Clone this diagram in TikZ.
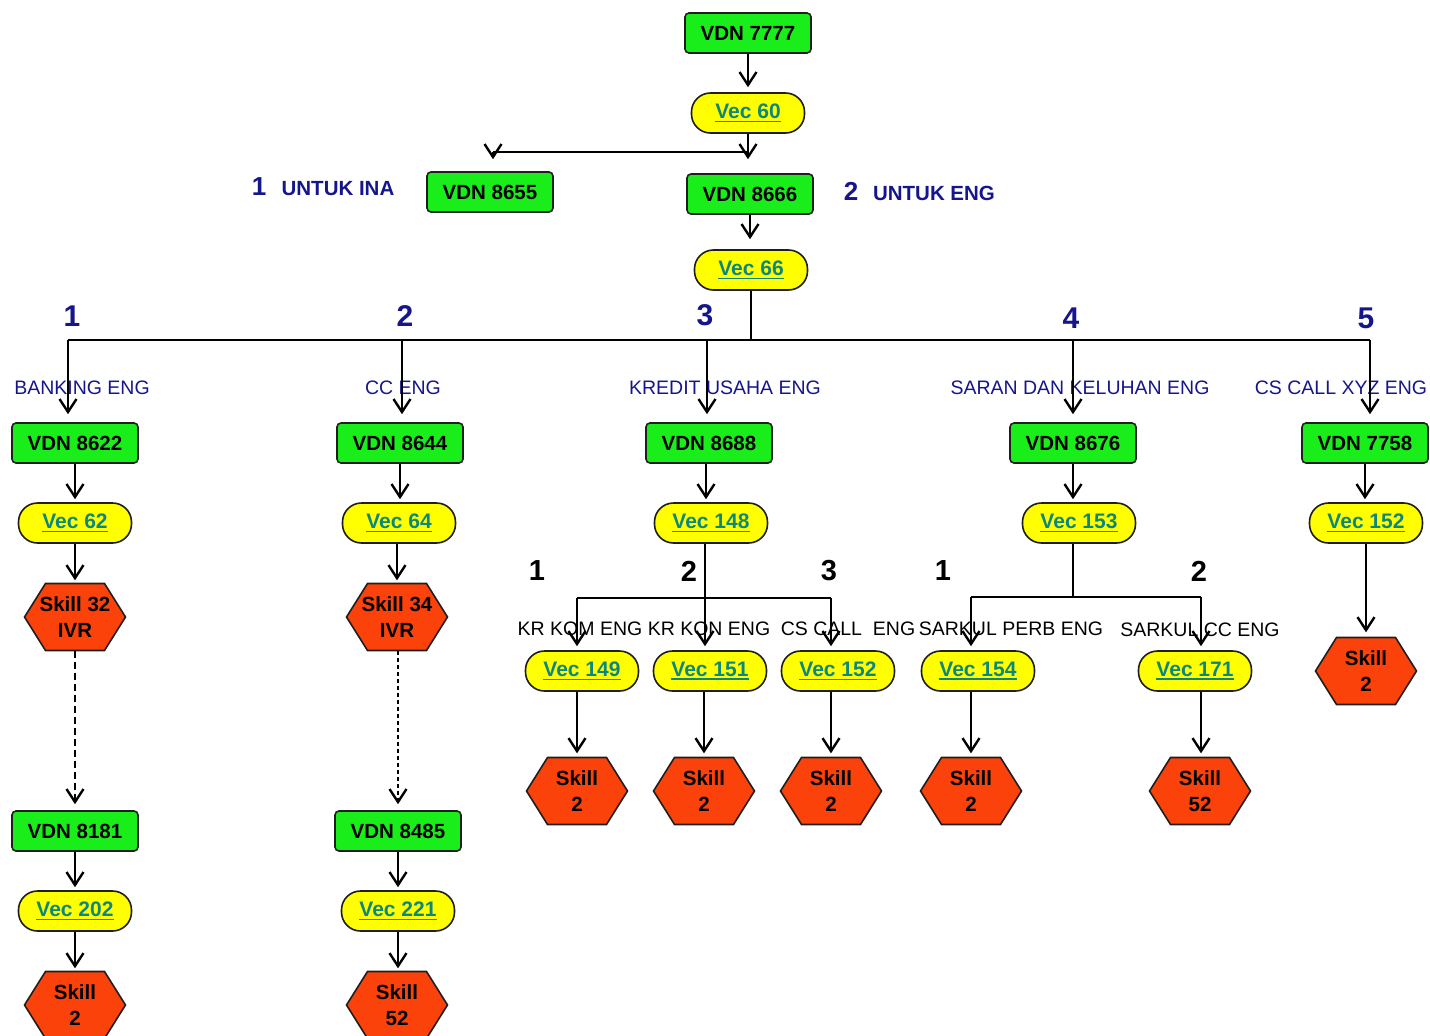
\documentclass[tikz,border=0pt]{standalone}
\usepackage{fontspec}
\setmainfont{Liberation Sans}
\usetikzlibrary{arrows.meta,calc}

\definecolor{vdngreen}{RGB}{26,238,26}
\definecolor{vecyellow}{RGB}{255,255,0}
\definecolor{vecteal}{RGB}{12,136,122}
\definecolor{skillred}{RGB}{250,66,10}
\definecolor{menunavy}{RGB}{22,22,140}
\definecolor{edgegray}{RGB}{30,30,30}

% underlined vector label
\newcommand\vul[1]{\setbox0=\hbox{#1}\rlap{\rule[-3.5pt]{\wd0}{1.5pt}}\box0}

% hexagonal skill node: name, x, y, text
\newcommand\skillnode[4]{%
  \path[hexshape] (#2-50.5,#3) -- (#2-29.5,#3-33.5) -- (#2+29.5,#3-33.5)
    -- (#2+50.5,#3) -- (#2+29.5,#3+33.5) -- (#2-29.5,#3+33.5) -- cycle;
  \node[skill] (#1) at (#2,#3) {#4};}

\tikzset{
  vdn/.style={draw=edgegray, line width=1.6pt, fill=vdngreen, rounded corners=4pt,
    minimum width=126pt, minimum height=40pt, inner sep=0pt,
    font=\bfseries\fontsize{20.5}{24}\selectfont},
  vecn/.style={draw=edgegray, line width=1.6pt, fill=vecyellow, rounded corners=19pt,
    minimum width=113pt, minimum height=40pt, inner sep=0pt, text=vecteal,
    font=\bfseries\fontsize{21}{24}\selectfont},
  hexshape/.style={draw=edgegray, line width=1.6pt, fill=skillred},
  skill/.style={minimum width=101pt, minimum height=67pt, inner sep=0pt, align=center,
    font=\bfseries\fontsize{20.5}{26}\selectfont},
  arr/.style={line width=2.4pt, -{Straight Barb[length=13pt,width=17pt]}},
  wire/.style={line width=2.2pt},
  stem/.style={line width=1.1pt},
  bignum/.style={text=menunavy, inner sep=0pt, font=\bfseries\fontsize{26}{30}\selectfont},
  biglab/.style={text=menunavy, inner sep=0pt, font=\bfseries\fontsize{20.5}{24}\selectfont},
  optnum/.style={text=menunavy, inner sep=0pt, font=\bfseries\fontsize{30}{34}\selectfont},
  optlab/.style={text=menunavy, inner sep=0pt, font=\fontsize{19.5}{22}\selectfont},
  subnum/.style={inner sep=0pt, font=\bfseries\fontsize{29}{32}\selectfont},
  sublab/.style={inner sep=0pt, font=\fontsize{19.5}{22}\selectfont},
}

\begin{document}
\begin{tikzpicture}[x=1pt,y=-1pt]
\fill[white] (0,0) rectangle (1430,1036);
\useasboundingbox (0,0) rectangle (1430,1036);

% ---- entry ----
\node[vdn]  (vdn7777) at (748,33)  {VDN 7777};
\node[vecn] (vec60)   at (748,113) {\vul{Vec 60}};
\node[vdn]  (vdn8655) at (490,192) {VDN 8655};
\node[vdn]  (vdn8666) at (750,194) {VDN 8666};
\node[vecn] (vec66)   at (751,270) {\vul{Vec 66}};

\node[bignum] (n1ina) at (259,187) {1};
\node[biglab] (lina)  at (338,189) {UNTUK INA};
\node[bignum] (n2eng) at (851,191) {2};
\node[biglab] (leng)  at (934,193) {UNTUK ENG};

% ---- English menu ----
\node[optnum] (o1) at (72,316)   {1};
\node[optnum] (o2) at (405,316)  {2};
\node[optnum] (o3) at (705,315)  {3};
\node[optnum] (o4) at (1071,318) {4};
\node[optnum] (o5) at (1366,318) {5};

\node[optlab] (l1) at (82,388)   {BANKING ENG};
\node[optlab] (l2) at (403,388)  {CC ENG};
\node[optlab] (l3) at (725,388)  {KREDIT USAHA ENG};
\node[optlab] (l4) at (1080,388) {SARAN DAN KELUHAN ENG};
\node[optlab] (l5) at (1341,388) {CS CALL XYZ ENG};

\node[vdn] (vdn8622) at (75,443)   {VDN 8622};
\node[vdn] (vdn8644) at (400,443)  {VDN 8644};
\node[vdn] (vdn8688) at (709,443)  {VDN 8688};
\node[vdn] (vdn8676) at (1073,443) {VDN 8676};
\node[vdn] (vdn7758) at (1365,443) {VDN 7758};

\node[vecn] (vec62)  at (75,523)   {\vul{Vec 62}};
\node[vecn] (vec64)  at (399,523)  {\vul{Vec 64}};
\node[vecn] (vec148) at (711,523)  {\vul{Vec 148}};
\node[vecn] (vec153) at (1079,523) {\vul{Vec 153}};
\node[vecn] (vec152r) at (1366,523) {\vul{Vec 152}};

\skillnode{sk32}{75}{617}{Skill 32\\IVR}
\skillnode{sk34}{397}{617}{Skill 34\\IVR}

\node[vdn]  (vdn8181) at (75,831)  {VDN 8181};
\node[vdn]  (vdn8485) at (398,831) {VDN 8485};
\node[vecn] (vec202)  at (75,911)  {\vul{Vec 202}};
\node[vecn] (vec221)  at (398,911) {\vul{Vec 221}};
\skillnode{skb2}{75}{1005}{Skill\\2}
\skillnode{skb52}{397}{1005}{Skill\\52}

% ---- sub menus ----
\node[subnum] (p1) at (537,571)  {1};
\node[subnum] (p2) at (689,571)  {2};
\node[subnum] (p3) at (829,571)  {3};
\node[subnum] (q1) at (943,571)  {1};
\node[subnum] (q2) at (1199,571) {2};

\node[sublab] (m1) at (580,629)  {KR KOM ENG};
\node[sublab] (m2) at (709,629)  {KR KON ENG};
\node[sublab] (m3) at (848,629)  {CS CALL~~ENG};
\node[sublab] (m4) at (1011,629) {SARKUL PERB ENG};
\node[sublab] (m5) at (1200,630) {SARKUL CC ENG};

\node[vecn] (vec149) at (582,671)  {\vul{Vec 149}};
\node[vecn] (vec151) at (710,671)  {\vul{Vec 151}};
\node[vecn] (vec152) at (838,671)  {\vul{Vec 152}};
\node[vecn] (vec154) at (978,671)  {\vul{Vec 154}};
\node[vecn] (vec171) at (1195,671) {\vul{Vec 171}};

\skillnode{ska}{577}{791}{Skill\\2}
\skillnode{skc}{704}{791}{Skill\\2}
\skillnode{skd}{831}{791}{Skill\\2}
\skillnode{ske}{971}{791}{Skill\\2}
\skillnode{skf}{1200}{791}{Skill\\52}
\skillnode{skr}{1366}{671}{Skill\\2}

% ---- connectors: entry ----
\draw[arr, shorten >=5pt] (vdn7777) -- (vec60);
\coordinate (s0) at (493,152);
\draw[wire] (s0) -- (vec60.south |- s0);
\draw[arr, shorten >=14pt] (vec60.south) -- (vec60.south |- vdn8666.north);
\draw[arr, shorten >=12pt] (s0) -- (s0 |- vdn8655.north);
\draw[arr, shorten >=10pt] (vdn8666.south) -- (vdn8666.south |- vec66.north);

% ---- connectors: menu bar ----
\coordinate (b1) at (68,340);
\coordinate (b2) at (402,340);
\coordinate (b3) at (707,340);
\coordinate (b4) at (1073,340);
\coordinate (b5) at (1370,340);
\draw[stem] (vec66.south) -- (vec66.south |- b1);
\draw[wire] (b1) -- (b5);
\draw[arr, shorten >=8pt] (b1) -- (b1 |- vdn8622.north);
\draw[arr, shorten >=8pt] (b2) -- (b2 |- vdn8644.north);
\draw[arr, shorten >=8pt] (b3) -- (b3 |- vdn8688.north);
\draw[arr, shorten >=8pt] (b4) -- (b4 |- vdn8676.north);
\draw[arr, shorten >=8pt] (b5) -- (b5 |- vdn7758.north);

\draw[arr, shorten >=3pt] (vdn8622.south) -- (vdn8622.south |- vec62.north);
\draw[arr, shorten >=3pt] (vdn8644.south) -- (vdn8644.south |- vec64.north);
\draw[arr, shorten >=3pt] ([xshift=-3pt]vdn8688.south) -- ([xshift=-3pt]vdn8688.south |- vec148.north);
\draw[arr, shorten >=3pt] (vdn8676.south) -- (vdn8676.south |- vec153.north);
\draw[arr, shorten >=3pt] (vdn7758.south) -- (vdn7758.south |- vec152r.north);

\draw[arr, shorten >=3pt] (vec62.south) -- (vec62.south |- sk32.north);
\draw[arr, shorten >=3pt] (sk34.north |- vec64.south) -- (sk34.north);
\draw[arr, shorten >=5pt] (vec152r.south) -- (vec152r.south |- skr.north);

% ---- connectors: follow-on chains ----
\draw[arr, dash pattern=on 7pt off 4pt, shorten >=6pt] (sk32.south) -- (sk32.south |- vdn8181.north);
\draw[arr, dash pattern=on 4pt off 3pt, shorten >=6pt] (sk34.south -| vdn8485.north) -- (vdn8485.north);
\draw[arr, shorten >=3pt] (vdn8181.south) -- (vdn8181.south |- vec202.north);
\draw[arr, shorten >=3pt] (vdn8485.south) -- (vdn8485.south |- vec221.north);
\draw[arr, shorten >=3pt] (vec202.south) -- (vec202.south |- skb2.north);
\draw[arr, shorten >=3pt] (vec221.south) -- (vec221.south |- skb52.north);

% ---- connectors: Vec 148 branch ----
\coordinate (c1) at (577,598);
\coordinate (c2) at (705,598);
\coordinate (c3) at (831,598);
\draw[stem] (c2 |- vec148.south) -- (c2);
\draw[wire] (c1) -- (c3);
\draw[arr, shorten >=4pt] (c1) -- (c1 |- vec149.north);
\draw[arr, shorten >=4pt] (c2) -- (c2 |- vec151.north);
\draw[arr, shorten >=4pt] (c3) -- (c3 |- vec152.north);
\draw[arr, shorten >=4pt] (ska.north |- vec149.south) -- (ska.north);
\draw[arr, shorten >=4pt] (skc.north |- vec151.south) -- (skc.north);
\draw[arr, shorten >=4pt] (skd.north |- vec152.south) -- (skd.north);

% ---- connectors: Vec 153 branch ----
\coordinate (d0) at (1073,597);
\coordinate (d1) at (971,597);
\coordinate (d2) at (1201,597);
\draw[stem] (d0 |- vec153.south) -- (d0);
\draw[wire] (d1) -- (d2);
\draw[arr, shorten >=4pt] (d1) -- (d1 |- vec154.north);
\draw[arr, shorten >=4pt] (d2) -- (d2 |- vec171.north);
\draw[arr, shorten >=4pt] (ske.north |- vec154.south) -- (ske.north);
\draw[arr, shorten >=4pt] ([xshift=1pt]skf.north |- vec171.south) -- ([xshift=1pt]skf.north);
\end{tikzpicture}
\end{document}
